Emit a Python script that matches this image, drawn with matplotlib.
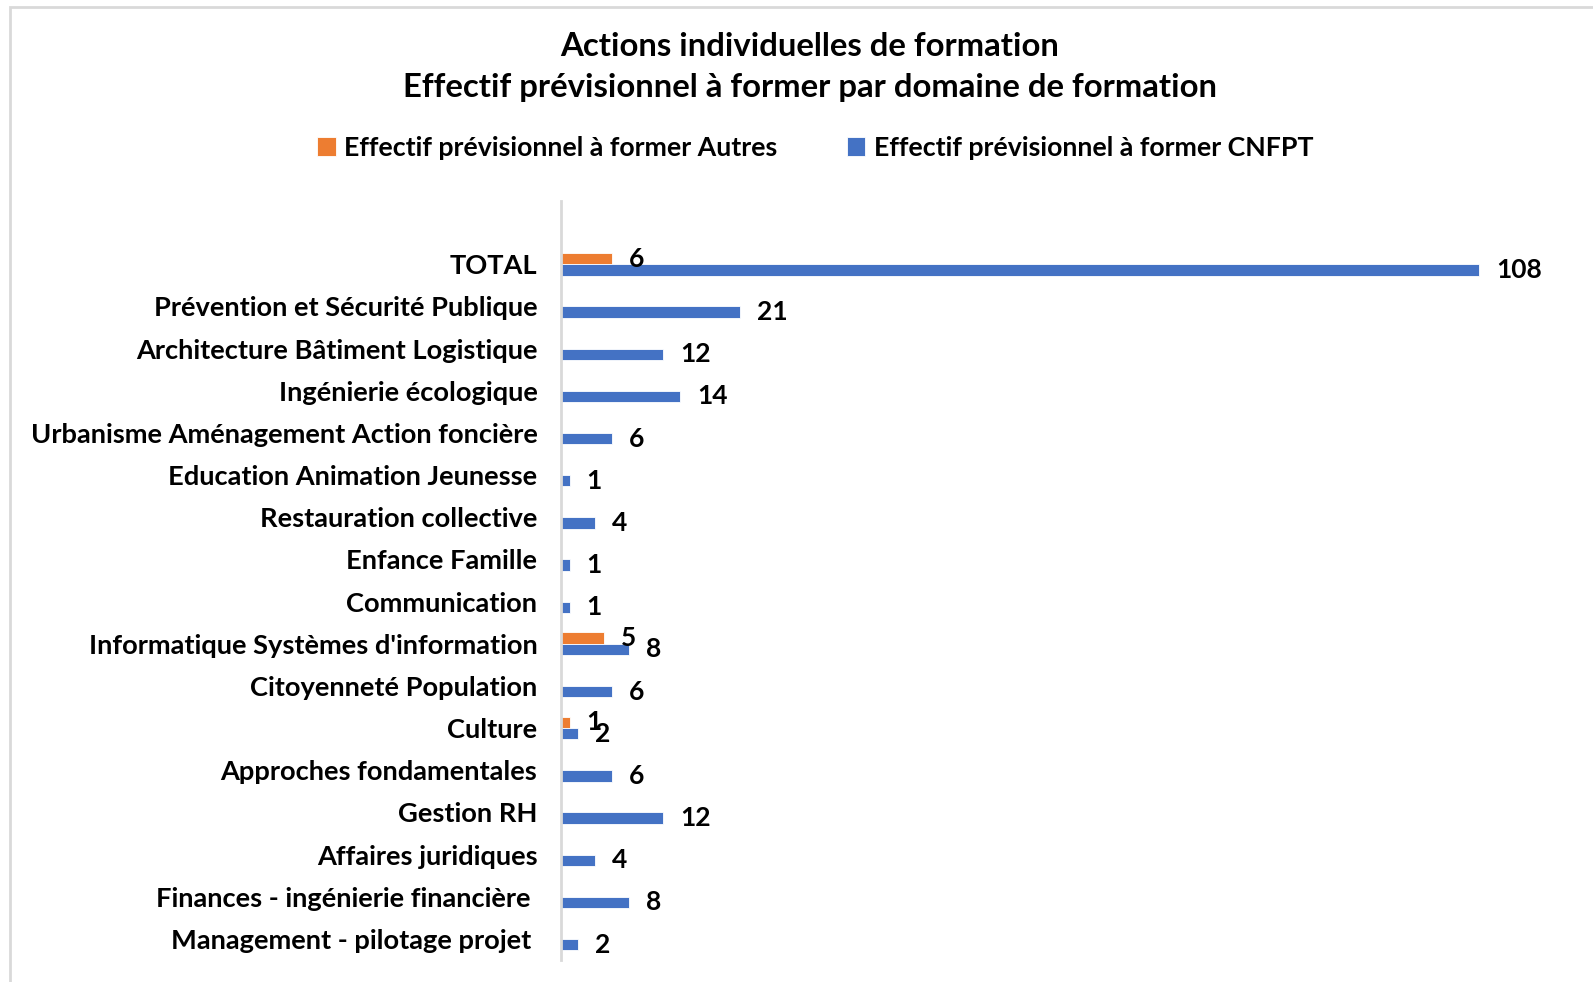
import matplotlib
matplotlib.use("Agg")
from matplotlib import pyplot as plt
from matplotlib.patches import Rectangle

CATEGORIES = ["TOTAL",
              "Prévention et Sécurité Publique",
              "Architecture Bâtiment Logistique",
              "Ingénierie écologique",
              "Urbanisme Aménagement Action foncière",
              "Education Animation Jeunesse",
              "Restauration collective",
              "Enfance Famille",
              "Communication",
              "Informatique Systèmes d'information",
              "Citoyenneté Population",
              "Culture",
              "Approches fondamentales",
              "Gestion RH",
              "Affaires juridiques",
              "Finances - ingénierie financière ",
              "Management - pilotage projet "]
AUTRES = [6, 0, 0, 0, 0, 0, 0, 0, 0, 5, 0, 1, 0, 0, 0, 0, 0]
CNFPT = [108, 21, 12, 14, 6, 1, 4, 1, 1, 8, 6, 2, 6, 12, 4, 8, 2]

LABEL_AUTRES = "Effectif prévisionnel à former Autres"
LABEL_CNFPT = "Effectif prévisionnel à former CNFPT"
TITLE = "Actions individuelles de formation\nEffectif prévisionnel à former par domaine de formation"

ORANGE = "#ED7D31"
BLUE = "#4472C4"
GRAY = "#D9D9D9"

plt.rcParams['font.family'] = ['Lato', 'DejaVu Sans']
plt.rcParams['font.weight'] = 'bold'

W, H = 1593, 982
fig = plt.figure(figsize=(W / 100, H / 100), dpi=100)

# chart frame (cut at right and bottom like the screenshot)
fig.patches.append(Rectangle((10 / W, -0.05), 1.2, (982 - 7) / H + 0.05,
                             transform=fig.transFigure, fill=False,
                             edgecolor=GRAY, linewidth=2))

ax = fig.add_axes([561 / W, 22 / H, (1581 - 561) / W, (960 - 201) / H])

n = len(CATEGORIES)
ys = [n - 1 - i for i in range(n)]
h = 0.27

ax.barh([y + h / 2 for y in ys], AUTRES, height=h, color=ORANGE,
        edgecolor="white", linewidth=0.6, label=LABEL_AUTRES)
ax.barh([y - h / 2 for y in ys], CNFPT, height=h, color=BLUE,
        edgecolor="white", linewidth=0.6, label=LABEL_CNFPT)

for y, v in zip(ys, AUTRES):
    if v:
        ax.annotate(str(v), (v, y + h / 2), xytext=(17, 0),
                    textcoords="offset pixels", va="center", ha="left",
                    fontsize=19, fontweight="bold")
for y, v in zip(ys, CNFPT):
    ax.annotate(str(v), (v, y - h / 2), xytext=(17, 0),
                textcoords="offset pixels", va="center", ha="left",
                fontsize=19, fontweight="bold")

ax.set_xlim(0, 120)
ax.set_ylim(-0.5, n + 0.5)
ax.set_yticks(ys)
ax.set_yticklabels(CATEGORIES, fontsize=19.6, fontweight="bold")
ax.tick_params(axis="y", length=0, pad=17)
ax.set_xticks([])
for s in ["top", "right", "bottom"]:
    ax.spines[s].set_visible(False)
ax.spines["left"].set_color(GRAY)
ax.spines["left"].set_linewidth(2)

fig.text(810 / W, 1 - 67 / H, TITLE, ha="center", va="center",
         fontsize=23.7, fontweight="bold", linespacing=1.5)

handles, labels = ax.get_legend_handles_labels()
fig.legend(handles, labels, loc="center", bbox_to_anchor=(815 / W, 1 - 148 / H),
           ncol=2, frameon=False, handlelength=0.7,
           handleheight=0.7, handletextpad=0.3, columnspacing=2.6,
           prop={"weight": "bold", "size": 19.3})

fig.savefig("out.png", dpi=100)
